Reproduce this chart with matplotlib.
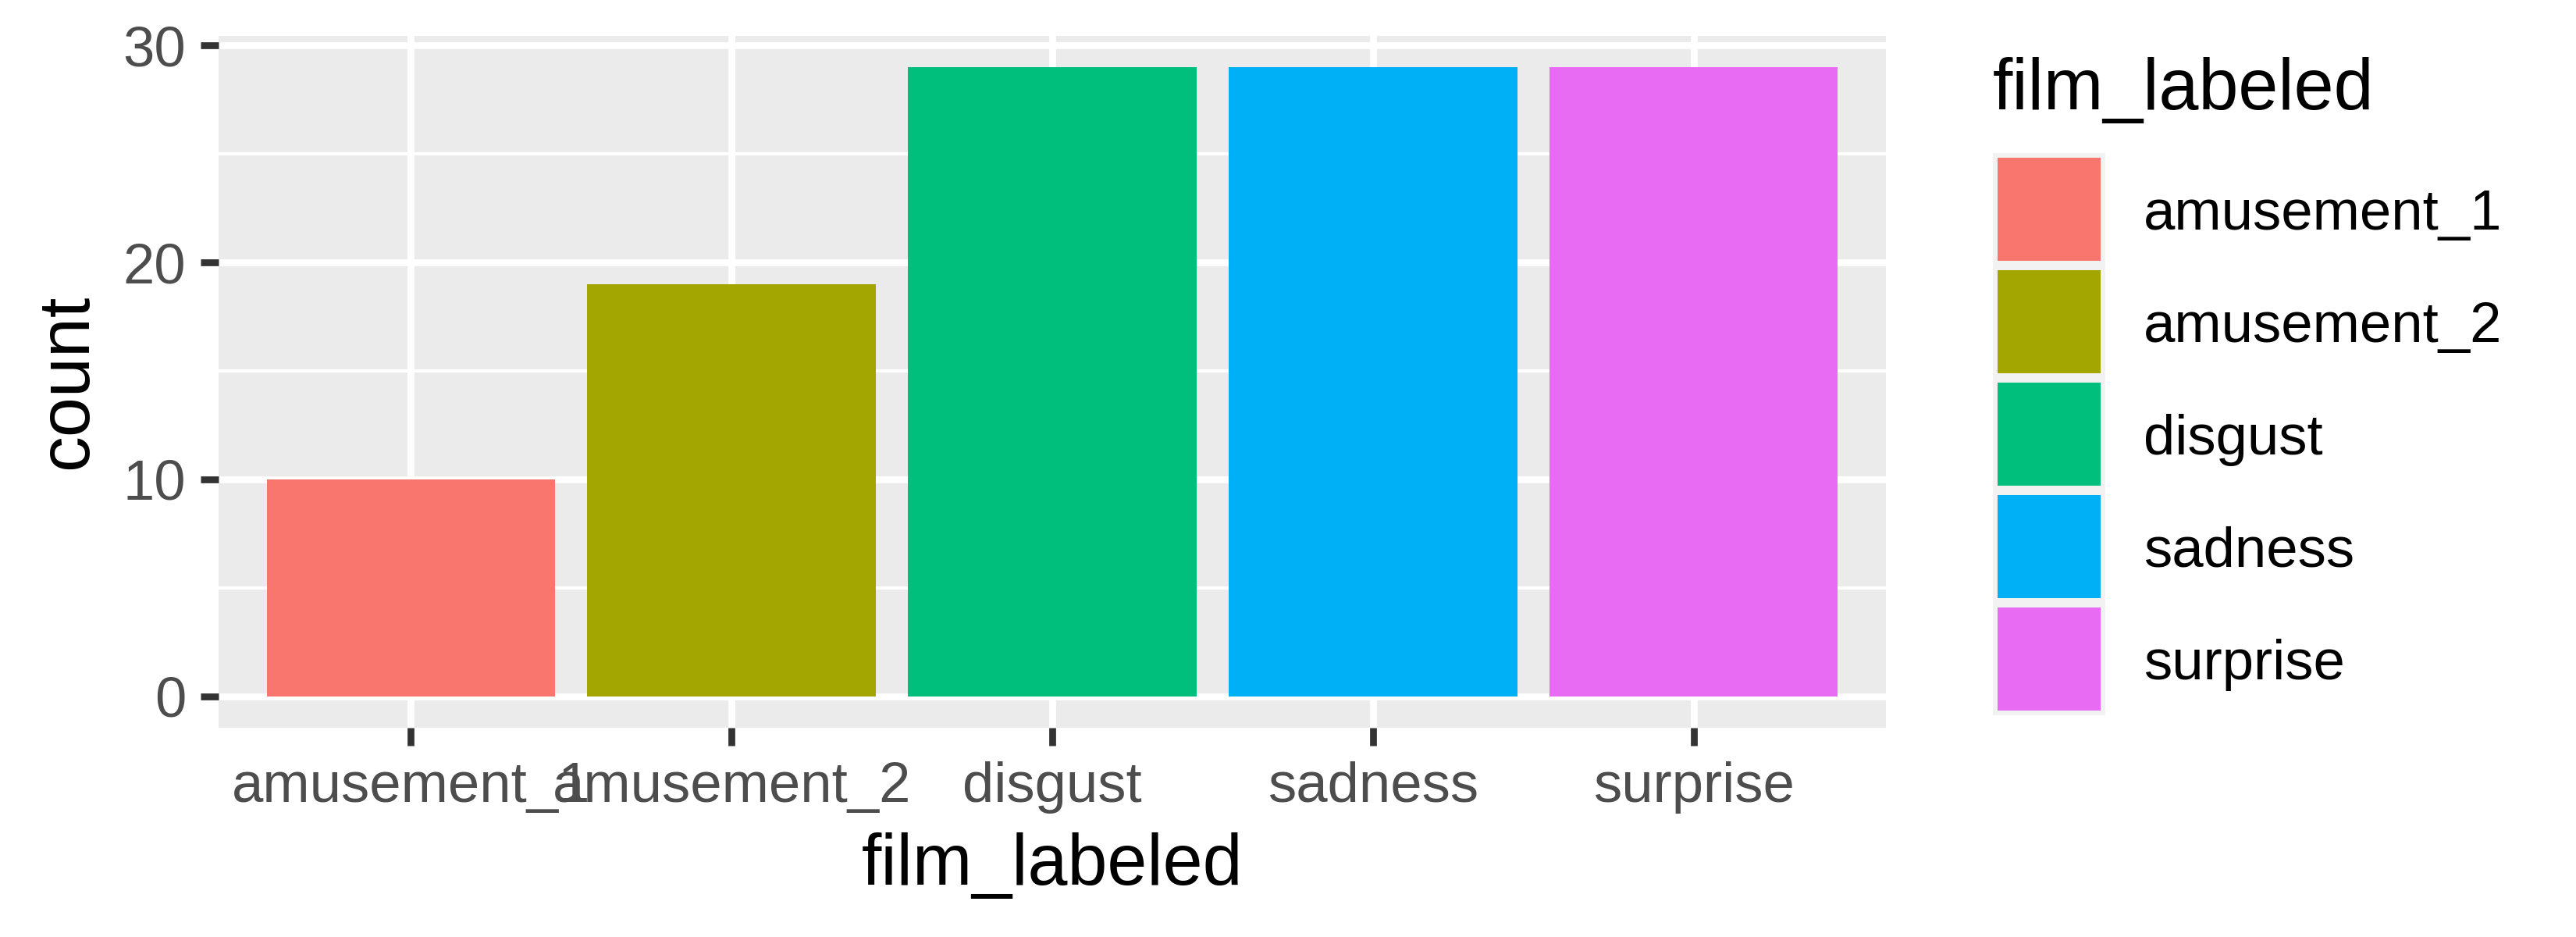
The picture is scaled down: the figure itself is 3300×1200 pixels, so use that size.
import matplotlib
matplotlib.use("Agg")
import matplotlib.pyplot as plt
from matplotlib.patches import Rectangle

categories = ["amusement_1", "amusement_2", "disgust", "sadness", "surprise"]
counts = [10, 19, 29, 29, 29]
colors = ["#F8766D", "#A3A500", "#00BF7D", "#00B0F6", "#E76BF3"]
y_ticks = [0, 10, 20, 30]
y_minor = [5, 15, 25]
x_title = "film_labeled"
y_title = "count"
legend_title = "film_labeled"

plt.rcParams['font.family'] = ['Liberation Sans', 'DejaVu Sans']

W, H = 3300, 1200
fig = plt.figure(figsize=(11, 4), dpi=300)
fig.patch.set_facecolor("white")

def fx(px):
    return px / W

def fy(py):
    return 1 - py / H

left, right, top, bottom = 280, 2416, 46, 932
ax = fig.add_axes([fx(left), fy(bottom), fx(right) - fx(left), (bottom - top) / H])
ax.set_facecolor("#EBEBEB")
for s in ax.spines.values():
    s.set_visible(False)

xpos = list(range(1, len(categories) + 1))
ax.bar(xpos, counts, width=0.9, color=colors, edgecolor="none", zorder=3)

ax.set_xlim(0.4, len(categories) + 0.6)
ymax = max(counts)
ax.set_ylim(-0.05 * ymax, ymax * 1.05)
ax.set_xticks(xpos)
ax.set_xticklabels(categories)
ax.set_yticks(y_ticks)
ax.set_yticks(y_minor, minor=True)

ax.grid(True, which="major", color="white", linewidth=2.1, zorder=1)
ax.grid(True, which="minor", axis="y", color="white", linewidth=1.0, zorder=1)
ax.set_axisbelow(True)

ax.tick_params(axis="both", which="major", length=5.5, width=2.1, color="#333333",
               labelsize=17.4, labelcolor="#4D4D4D")
ax.tick_params(axis="x", which="major", pad=4.8)
ax.tick_params(axis="y", which="major", pad=4.5)
ax.tick_params(axis="both", which="minor", length=0)

fig.text(fx((left + right) / 2), fy(1133), x_title, ha="center", va="baseline",
         fontsize=22, color="black")
fig.text(fx(87), fy((top + bottom) / 2), y_title, ha="center", va="center",
         rotation=90, fontsize=22, color="black")

# legend
lax = fig.add_axes([0, 0, 1, 1])
lax.set_xlim(0, W)
lax.set_ylim(H, 0)
lax.axis("off")
lax.text(2553, 140, legend_title, ha="left", va="baseline", fontsize=22, color="black")
kx, ky0, ks, inset = 2553, 196, 144, 6
for i, (lab, col) in enumerate(zip(categories, colors)):
    y0 = ky0 + i * ks
    lax.add_patch(Rectangle((kx, y0), ks, ks, facecolor="#F2F2F2", edgecolor="none"))
    lax.add_patch(Rectangle((kx + inset, y0 + inset), ks - 2 * inset, ks - 2 * inset,
                            facecolor=col, edgecolor="none"))
    lax.text(kx + ks + 49, y0 + ks / 2, lab, ha="left", va="center_baseline",
             fontsize=17.4, color="black")

fig.savefig("out.png", dpi=300)
